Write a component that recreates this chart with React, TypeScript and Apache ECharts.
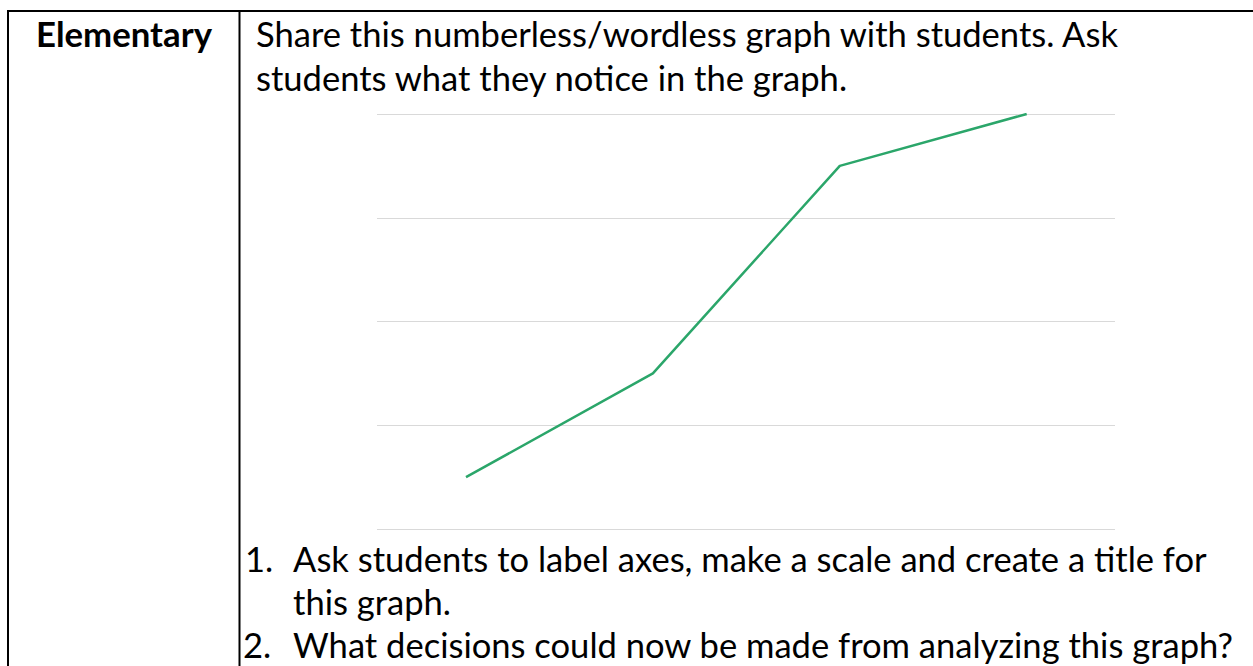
import React, { useEffect, useRef } from "react";
import * as echarts from "echarts";

const categories = ["A", "B", "C", "D"];
const values = [0.5, 1.5, 3.5, 4];
const yMin = 0;
const yMax = 4;
const yInterval = 1;

const headerText = "Elementary";
const introLines = [
  "Share this numberless/wordless graph with students. Ask",
  "students what they notice in the graph.",
];
const listNumbers = ["1.", "2."];
const listLines = [
  "Ask students to label axes, make a scale and create a title for",
  "this graph.",
  "What decisions could now be made from analyzing this graph?",
];

const FAMILY = "Lato, 'Open Sans', sans-serif";

function fitSize(text: string, weight: string, target: number): number {
  const ctx = document.createElement("canvas").getContext("2d");
  if (!ctx) return 28;
  ctx.font = `${weight} 100px ${FAMILY}`;
  const w = ctx.measureText(text).width;
  return w > 0 ? (100 * target) / w : 28;
}

export default function App() {
  const ref = useRef<HTMLDivElement>(null);

  useEffect(() => {
    if (!ref.current) return;
    const chart = echarts.init(ref.current, undefined, { renderer: "svg" });

    const regSize = fitSize(introLines[0], "normal", 864);
    const boldSize = fitSize(headerText, "bold", 176);
    const off = 0.36;

    const txt = (text: string, x: number, baseline: number, size: number, bold = false) => ({
      type: "text",
      style: {
        text,
        x,
        y: baseline - off * size,
        fill: "#000000",
        font: `${bold ? "bold " : ""}${size.toFixed(2)}px ${FAMILY}`,
        textAlign: "left",
        textVerticalAlign: "middle",
      },
      silent: true,
    });

    const line = (x1: number, y1: number, x2: number, y2: number) => ({
      type: "line",
      shape: { x1, y1, x2, y2 },
      style: { stroke: "#000000", lineWidth: 2 },
      silent: true,
    });

    chart.setOption({
      animation: false,
      backgroundColor: "#ffffff",
      grid: [
        { left: 377, width: 738, top: 114, height: 415, containLabel: false },
        { left: 372.55, width: 747.6, top: 114, height: 415, containLabel: false },
      ],
      xAxis: [
        { gridIndex: 0, type: "category", data: categories, show: false },
        {
          gridIndex: 1,
          type: "category",
          data: categories,
          boundaryGap: true,
          axisLine: { show: false },
          axisTick: { show: false },
          axisLabel: { show: false },
          splitLine: { show: false },
        },
      ],
      yAxis: [
        {
          gridIndex: 0,
          type: "value",
          min: yMin,
          max: yMax,
          interval: yInterval,
          axisLine: { show: false },
          axisTick: { show: false },
          axisLabel: { show: false },
          splitLine: { show: true, lineStyle: { color: "#D9D9D9", width: 1 } },
        },
        {
          gridIndex: 1,
          type: "value",
          min: yMin,
          max: yMax,
          interval: yInterval,
          axisLine: { show: false },
          axisTick: { show: false },
          axisLabel: { show: false },
          splitLine: { show: false },
        },
      ],
      series: [
        {
          type: "line",
          xAxisIndex: 1,
          yAxisIndex: 1,
          data: values,
          showSymbol: false,
          symbol: "none",
          lineStyle: { color: "#2BA66A", width: 2.5 },
          z: 5,
        },
      ],
      graphic: [
        line(7, 11, 1253, 11),
        line(8, 10, 8, 666),
        line(239.5, 10, 239.5, 666),
        txt(headerText, 36, 46, boldSize, true),
        txt(introLines[0], 256, 46, regSize),
        txt(introLines[1], 256, 90, regSize),
        txt(listNumbers[0], 245, 571, regSize),
        txt(listLines[0], 293, 571, regSize),
        txt(listLines[1], 293, 614, regSize),
        txt(listNumbers[1], 243, 657, regSize),
        txt(listLines[2], 293, 657, regSize),
      ],
    });

    return () => chart.dispose();
  }, []);

  return (
    <div
      ref={ref}
      style={{ position: "absolute", left: 0, top: 0, width: 1253, height: 666 }}
    />
  );
}
